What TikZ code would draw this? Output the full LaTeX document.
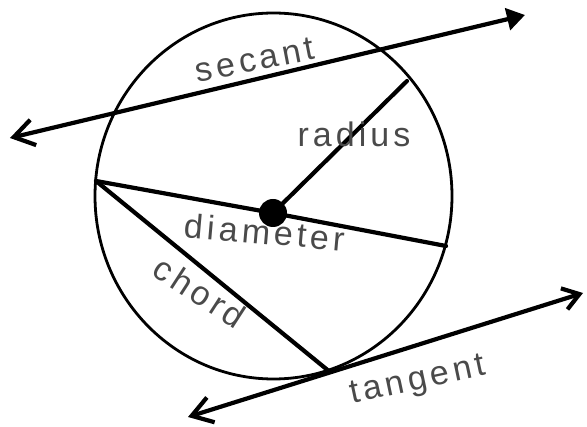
\documentclass[tikz,border=0pt]{standalone}
\usepackage{fontspec}
\newfontfamily\hand{Liberation Sans}[LetterSpace=12]
\usetikzlibrary{arrows.meta}
\definecolor{pencil}{HTML}{4A4A4A}
\tikzset{
  lbl/.style={text=pencil, font=\hand\fontsize{34}{36}\selectfont, inner sep=0pt},
  ink/.style={line width=4.2pt, line cap=round},
  rim/.style={line width=2.8pt},
}
\begin{document}
\begin{tikzpicture}[x=1pt,y=-1pt]
\useasboundingbox (0,0) rectangle (587,427);
% circle
\coordinate (O) at (273.5,196);
\draw[rim] (O) ellipse [x radius=178.5, y radius=183];
% points
\coordinate (dL) at (96,181);
\coordinate (dR) at (446,246);
\coordinate (rE) at (407,81);
\coordinate (tP) at (330,372);
\coordinate (sL) at (10,138);
\coordinate (sR) at (525,15);
\coordinate (tL) at (188,417);
\coordinate (tR) at (583,293);
% center dot
\node[circle, fill=black, minimum size=28pt, inner sep=0pt] (c) at (273,213) {};
% segments
\draw[ink] (dL) -- (c.center) -- (dR);
\draw[ink] (c.center) -- (rE);
\draw[ink] (dL) -- (tP);
% lines with arrows
\draw[ink, line cap=butt, {Straight Barb[length=20pt,width=26pt,line width=4.2pt]}-{Triangle[length=18pt,width=22pt]}] (sL) -- (sR);
\draw[ink, line cap=butt, {Straight Barb[length=20pt,width=26pt,line width=4.2pt]}-{Straight Barb[length=16pt,width=22pt,line width=4.2pt]}] (tL) -- (tR);
% labels
\node[lbl, rotate=11] (secant) at (255,60) {secant};
\node[lbl] (radius) at (354,134) {radius};
\node[lbl, rotate=-5] (diameter) at (265,232) {diameter};
\node[lbl, rotate=-33] (chord) at (200,292) {chord};
\node[lbl, rotate=12] (tangent) at (418,382) {tangent};
\end{tikzpicture}
\end{document}
